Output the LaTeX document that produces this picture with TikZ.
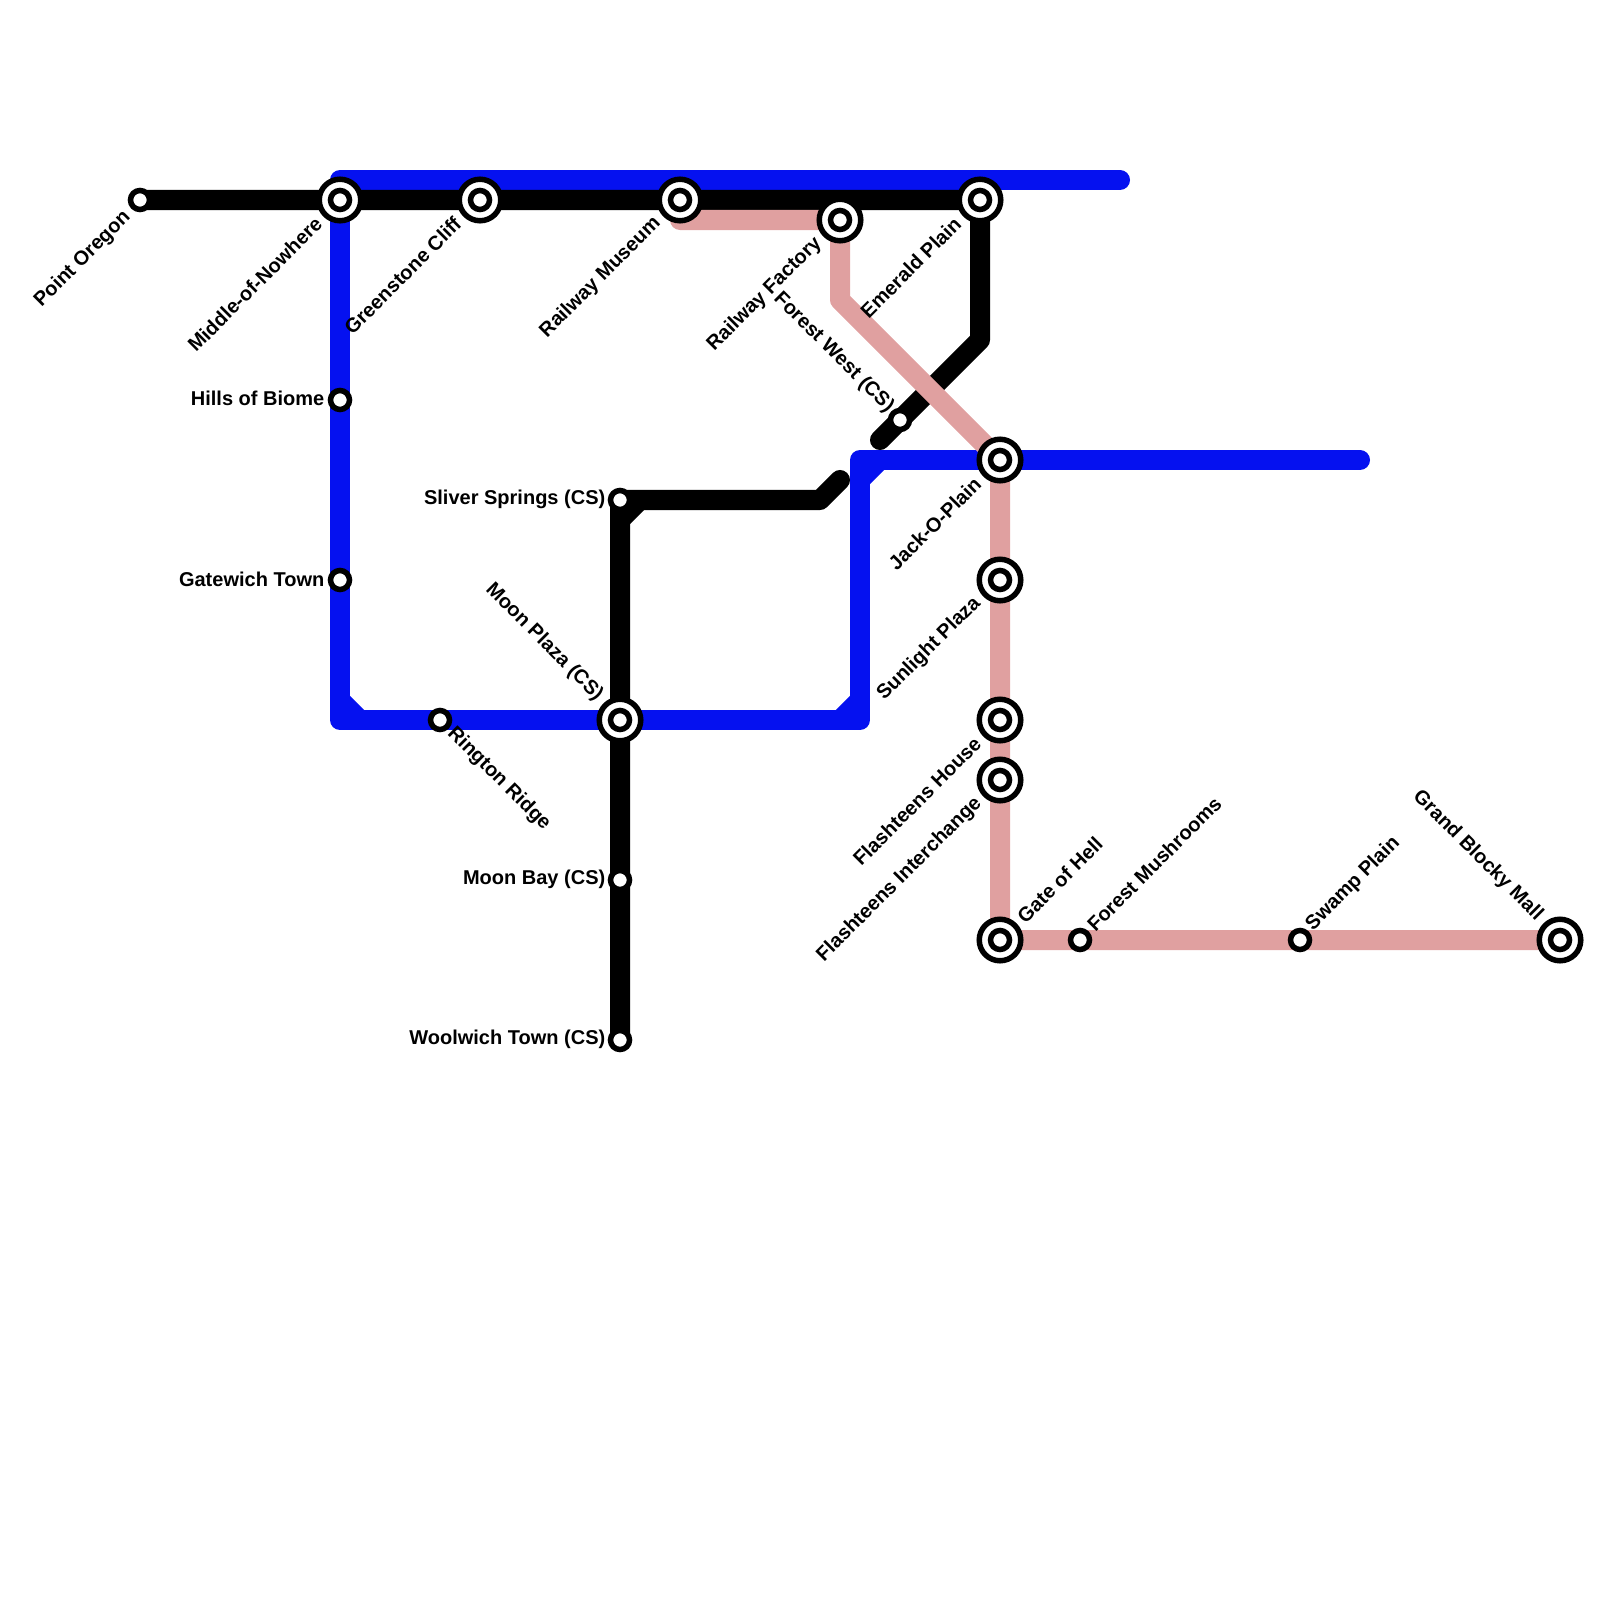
\documentclass[tikz,border=0pt]{standalone}
\usepackage{fontspec}
\setmainfont{Liberation Sans}
\usetikzlibrary{backgrounds}
\definecolor{lineblue}{RGB}{5,17,240}
\definecolor{linepink}{RGB}{224,160,160}
\tikzset{
  smlstn/.style={circle,draw=black,fill=white,line width=0.055cm,minimum size=0.19cm,inner sep=0pt},
  intstn/.style={circle,draw=black,fill=white,line width=0.055cm,minimum size=0.415cm,inner sep=0pt},
  metro/.style={line width=0.2cm,line cap=round,line join=round},
  blueln/.style={metro,draw=lineblue},
  blackln/.style={metro,draw=black},
  pinkln/.style={metro,draw=linepink},
  chamfer/.style={line width=0.2cm},
  lbl/.style={font=\bfseries\fontsize{5.69pt}{7pt}\selectfont,inner sep=0pt,text=black},
  lblw/.style={lbl,anchor=east},
  lblsw/.style={lbl,anchor=east,rotate=45},
  lblne/.style={lbl,anchor=west,rotate=45},
  lblnw/.style={lbl,anchor=east,rotate=-45},
  lblse/.style={lbl,anchor=west,rotate=-45}
}

\begin{document}
\begin{tikzpicture}[x=0.01cm,y=-0.01cm]
  \useasboundingbox (0,0) rectangle (1600,1600);

  % stations
  \node[smlstn] (oregon) at (140,200) {};
  \node[intstn] (nowhere) at (340,200) {};
  \node[intstn] (cliff) at (480,200) {};
  \node[intstn] (museum) at (680,200) {};
  \node[intstn] (factory) at (840,220) {};
  \node[intstn] (emerald) at (980,200) {};
  \node[smlstn] (biome) at (340,400) {};
  \node[smlstn] (gatewich) at (340,580) {};
  \node[smlstn] (rington) at (440,720) {};
  \node[intstn] (moonplaza) at (620,720) {};
  \node[smlstn] (sliver) at (620,500) {};
  \node[smlstn] (moonbay) at (620,880) {};
  \node[smlstn] (woolwich) at (620,1040) {};
  \node[smlstn] (forestwest) at (900,420) {};
  \node[intstn] (jack) at (1000,460) {};
  \node[intstn] (sunlight) at (1000,580) {};
  \node[intstn] (house) at (1000,720) {};
  \node[intstn] (interchange) at (1000,780) {};
  \node[intstn] (hell) at (1000,940) {};
  \node[smlstn] (mushrooms) at (1080,940) {};
  \node[smlstn] (swamp) at (1300,940) {};
  \node[intstn] (mall) at (1560,940) {};
  \foreach \stn in {nowhere,cliff,museum,factory,emerald,moonplaza,jack,sunlight,house,interchange,hell,mall}
    \node[smlstn] (\stn core) at (\stn) {};

  % bends and line ends
  \coordinate (blueend) at (1120,180);
  \coordinate (bluetl) at (340,180);
  \coordinate (bluebl) at (340,720);
  \coordinate (bluebr) at (860,720);
  \coordinate (bluetr) at (860,460);
  \coordinate (blueout) at (1360,460);
  \coordinate (blackbend) at (980,340);
  \coordinate (blacktip) at (880,440);
  \coordinate (sliverbend) at (820,500);
  \coordinate (slivertip) at (840,480);
  \coordinate (pinka) at (840,300);

  % lines
  \begin{scope}[on background layer]
    \draw[blueln] (blueend) -- (bluetl) -- (bluebl) -- (bluebr) -- (bluetr) -- (blueout);
    \draw[chamfer,lineblue] (340,700) -- (360,720);
    \draw[chamfer,lineblue] (840,720) -- (860,700);
    \draw[chamfer,lineblue] (860,480) -- (880,460);
    \draw[blackln] (oregon.center) -- (emerald.center) -- (blackbend) -- (blacktip);
    \draw[blackln] (slivertip) -- (sliverbend) -- (sliver.center) -- (woolwich.center);
    \draw[chamfer,black] (620,520) -- (640,500);
    \draw[pinkln] (museum.center |- factory.center) -- (factory.center) -- (pinka) -- (jack.center) -- (hell.center) -- (mall.center);
  \end{scope}

  % labels
  \node[lblsw] (oregonlbl) at (128,214) {Point Oregon};
  \node[lblsw] (nowherelbl) at (319,220) {Middle-of-Nowhere};
  \node[lblsw] (clifflbl) at (458,220) {Greenstone Cliff};
  \node[lblsw] (museumlbl) at (658,220) {Railway Museum};
  \node[lblsw] (factorylbl) at (819,240) {Railway Factory};
  \node[lblsw] (emeraldlbl) at (958,220) {Emerald Plain};
  \node[lblw] (biomelbl) at (325,398) {Hills of Biome};
  \node[lblw] (gatewichlbl) at (325,579) {Gatewich Town};
  \node[lblw] (sliverlbl) at (606,499) {Sliver Springs (CS)};
  \node[lblw] (moonbaylbl) at (606,879) {Moon Bay (CS)};
  \node[lblw] (woolwichlbl) at (606,1039) {Woolwich Town (CS)};
  \node[lblse] (ringtonlbl) at (450,730) {Rington Ridge};
  \node[lblnw] (moonplazalbl) at (600,698) {Moon Plaza (CS)};
  \node[lblnw] (forestwestlbl) at (891,410) {Forest West (CS)};
  \node[lblsw] (jacklbl) at (978,480) {Jack-O-Plain};
  \node[lblsw] (sunlightlbl) at (978,600) {Sunlight Plaza};
  \node[lblsw] (houselbl) at (978,740) {Flashteens House};
  \node[lblsw] (interchangelbl) at (979,800) {Flashteens Interchange};
  \node[lblne] (helllbl) at (1020,920) {Gate of Hell};
  \node[lblne] (mushroomslbl) at (1090,928) {Forest Mushrooms};
  \node[lblne] (swamplbl) at (1309,928) {Swamp Plain};
  \node[lblnw] (malllbl) at (1540,918) {Grand Blocky Mall};
\end{tikzpicture}
\end{document}
